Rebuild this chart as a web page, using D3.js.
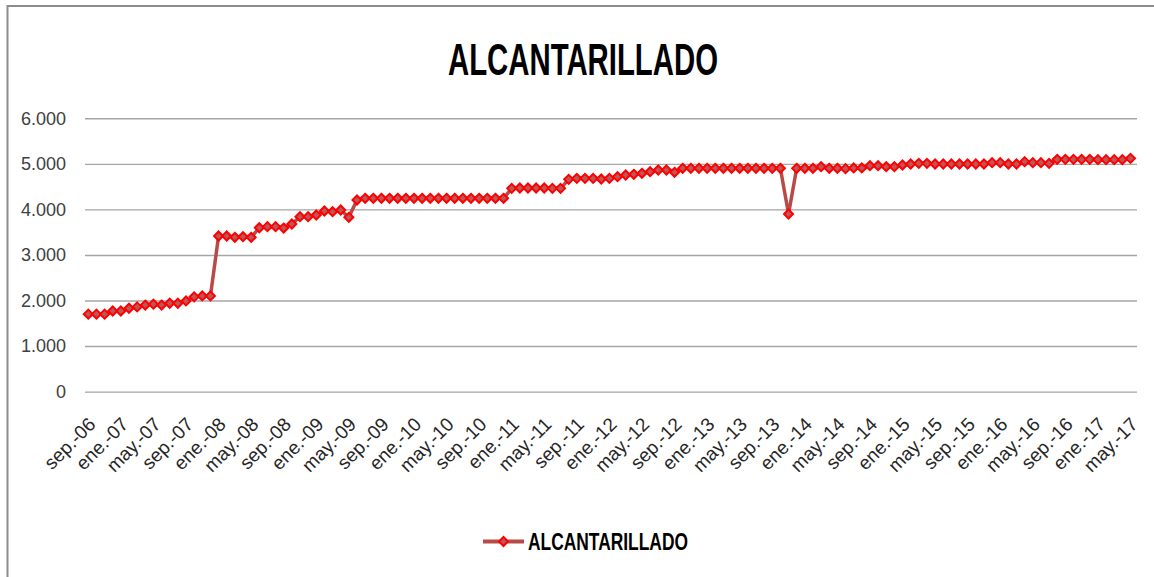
<!DOCTYPE html>
<html>
<head>
<meta charset="utf-8">
<script src="https://cdn.jsdelivr.net/npm/d3@7"></script>
<style>
    body { margin: 0; background: #fff; }
    svg { display: block; }
</style>
</head>
<body>
<div id="graphContainer"></div>
<script>
"use strict";
// month names used by the category axis
const monthNames = ["ene.", "feb.", "mar.", "abr.", "may.", "jun.", "jul.", "ago.", "sep.", "oct.", "nov.", "dic."]
const startYear = 2006
const startMonth = 8 // sep.
const nMonths = 129

// ALCANTARILLADO, monthly, sep.-06 .. may.-17
const alcantarillado = [
    1700, 1700, 1700, 1770, 1770, 1830, 1860, 1900, 1920, 1900, 1940, 1940, 1990, 2080, 2100, 2100,
    3416, 3416, 3387, 3401, 3387, 3598, 3621, 3621, 3590, 3680, 3840, 3840, 3877, 3965, 3950, 3987,
    3826, 4206, 4243, 4243, 4243, 4243, 4243, 4243, 4243, 4243, 4243, 4243, 4243, 4243, 4243, 4243,
    4243, 4243, 4243, 4243, 4462, 4470, 4470, 4470, 4470, 4462, 4462, 4660, 4682, 4682, 4682, 4667,
    4682, 4718, 4755, 4770, 4792, 4828, 4865, 4865, 4814, 4902, 4902, 4902, 4902, 4902, 4902, 4902,
    4902, 4902, 4902, 4902, 4902, 4902, 3899, 4902, 4902, 4902, 4938, 4902, 4902, 4895, 4910, 4910,
    4960, 4960, 4938, 4938, 4975, 4996, 5011, 5011, 4996, 4996, 4996, 4996, 4996, 4996, 4996, 5026,
    5026, 4996, 4996, 5048, 5026, 5026, 5011, 5099, 5099, 5099, 5099, 5099, 5092, 5092, 5092, 5092,
    5121
]
const yTicks = [0, 1000, 2000, 3000, 4000, 5000, 6000]
const seriesName = "ALCANTARILLADO"

const months = d3.range(nMonths).map(i => {
    const m = (startMonth + i) % 12
    const y = startYear + Math.floor((startMonth + i) / 12)
    return monthNames[m] + "-" + String(y).slice(2)
})
const data = months.map((m, i) => ({ month: m, value: alcantarillado[i] }))
const labelMonths = months.filter((m, i) => i % 4 === 0)

const measurements = { width: 1154, height: 577 }
const lineColor = "#B84A47"
const markerStroke = "#FF0000"
const markerFill = "#B8585A"
const narrowFont = "'Liberation Sans Narrow', 'Arial Narrow', 'Liberation Sans', sans-serif"

const svg = d3.select("#graphContainer").append("svg")
    .attr("width", measurements.width)
    .attr("height", measurements.height)

// chart area border (runs off the right and bottom edges)
svg.append("rect")
    .attr("x", 7.5).attr("y", 6)
    .attr("width", 1200).attr("height", 700)
    .attr("fill", "#fff")
    .attr("stroke", "#8c8c8c")
    .attr("stroke-width", 2)

const scaleX = d3.scalePoint().domain(months).range([88.3, 1130.5])
const scaleY = d3.scaleLinear().domain([0, 6000]).range([391.6, 118.3])

const locale = d3.formatLocale({ decimal: ",", thousands: ".", grouping: [3], currency: ["", ""] })
const fmt = locale.format(",d")

// y axis with gridlines
const yAxis = d3.axisLeft(scaleY)
    .tickValues(yTicks)
    .tickFormat(fmt)
    .tickSize(-(1137 - 85))
    .tickPadding(19)
const gy = svg.append("g")
    .attr("transform", "translate(85,0)")
    .call(yAxis)
gy.select(".domain").remove()
gy.selectAll(".tick line").attr("stroke", "#a6a6a6").attr("stroke-width", 1.4)
gy.selectAll(".tick text")
    .attr("fill", "#404040")
    .style("font-family", "'Liberation Sans', Arial, sans-serif")
    .style("font-size", "18px")

// x axis labels, rotated
const xAxis = d3.axisBottom(scaleX)
    .tickValues(labelMonths)
    .tickSize(0)
const gx = svg.append("g")
    .attr("transform", "translate(0,391.6)")
    .call(xAxis)
gx.select(".domain").remove()
gx.selectAll(".tick text")
    .attr("fill", "#262626")
    .attr("text-anchor", "end")
    .attr("dy", null)
    .attr("y", null)
    .attr("transform", "translate(8,34) rotate(-45)")
    .style("font-family", narrowFont)
    .style("font-size", "19px")

// the line
const line = d3.line()
    .x(d => scaleX(d.month))
    .y(d => scaleY(d.value))
svg.append("path")
    .datum(data)
    .attr("fill", "none")
    .attr("stroke", lineColor)
    .attr("stroke-width", 3.5)
    .attr("stroke-linejoin", "round")
    .attr("d", line)

const diamond = "M0,-4.5L4.5,0L0,4.5L-4.5,0Z"
svg.selectAll(".marker")
    .data(data)
    .enter()
    .append("path")
    .attr("class", "marker")
    .attr("transform", d => "translate(" + scaleX(d.month) + "," + scaleY(d.value) + ")")
    .attr("d", diamond)
    .attr("fill", markerFill)
    .attr("stroke", markerStroke)
    .attr("stroke-width", 2)

// title
svg.append("text")
    .attr("x", 583)
    .attr("y", 75)
    .attr("text-anchor", "middle")
    .attr("textLength", 270)
    .attr("lengthAdjust", "spacingAndGlyphs")
    .style("font-family", narrowFont)
    .style("font-weight", "bold")
    .style("font-size", "44px")
    .attr("fill", "#000")
    .text(seriesName)

// legend
const legend = svg.append("g").attr("transform", "translate(483,541.5)")
legend.append("line")
    .attr("x1", 0).attr("x2", 41)
    .attr("stroke", lineColor)
    .attr("stroke-width", 4)
legend.append("path")
    .attr("transform", "translate(20.5,0)")
    .attr("d", diamond)
    .attr("fill", markerFill)
    .attr("stroke", markerStroke)
    .attr("stroke-width", 2)
legend.append("text")
    .attr("x", 45)
    .attr("y", 8)
    .attr("textLength", 160)
    .attr("lengthAdjust", "spacingAndGlyphs")
    .style("font-family", narrowFont)
    .style("font-weight", "bold")
    .style("font-size", "24px")
    .attr("fill", "#000")
    .text(seriesName)
</script>
</body>
</html>
